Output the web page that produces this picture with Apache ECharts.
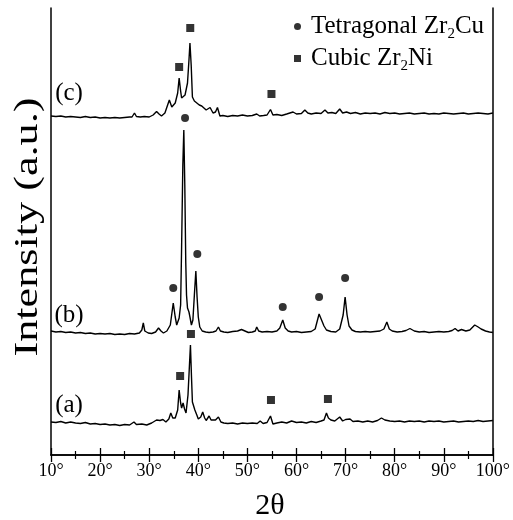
<!DOCTYPE html>
<html>
<head>
<meta charset="utf-8">
<script src="https://cdn.jsdelivr.net/npm/echarts@6/dist/echarts.min.js"></script>
<style>html,body{margin:0;padding:0;background:#fff}#c{width:513px;height:520px}</style>
</head>
<body>
<div id="c"></div>
<script>
// X axis: 2θ in degrees; Y: intensity (a.u.), traces offset vertically
var xTicks = [10, 20, 30, 40, 50, 60, 70, 80, 90, 100];

var traceA = [[10,33],[11,32.5],[12,33.5],[13,32],[14,33],[15,32],[16,31.5],[17,32.5],[18,31],[19,31.5],[20,30.5],[21,31],[22,30],[23,30.5],[24,29.5],[25,30.5],[26,30],[26.9,33],[27.4,30.5],[28.5,31],[29.5,30],[30.5,32],[31.5,35],[32.2,34.5],[32.8,35.5],[33.4,33],[34.0,36],[34.4,42],[34.8,37],[35.3,37],[35.8,45],[36.1,65],[36.4,52],[36.6,47],[36.9,52],[37.2,46],[37.5,42],[37.9,60],[38.15,85],[38.4,110],[38.6,80],[38.8,53],[39.3,45],[39.7,40],[40.0,36],[40.5,38],[40.9,43],[41.3,37],[41.6,34.5],[42.2,39],[42.6,35],[42.9,34],[43.5,35],[44.1,38],[44.6,33],[45.2,32],[46,31.5],[47,32],[48,31],[49,32],[50,31.5],[51,32],[52,31.5],[52.6,34],[53.2,31.5],[54.0,32.5],[54.7,39],[55.2,31],[56,32],[57,33],[58,32],[59,34],[60,32.5],[61,33],[62,32],[63,33.5],[64,32.5],[65,34],[65.6,35],[66.1,42],[66.5,37],[67,35],[67.8,34],[68.8,38],[69.4,34],[70,35.5],[70.9,36],[71.5,33.5],[72.5,34],[73.5,33],[74.5,34],[75.5,33],[76.5,34.5],[77.3,37],[78,35],[79,34],[80,33.5],[81,34],[82,33],[83,34],[84,33.5],[85,34],[86,33],[87,34],[88,33.5],[89,34],[90,33],[91,33.5],[92,34],[93,33],[94,33.5],[95,34],[96,33.5],[97,34.5],[98,33.5],[99,34],[100,34.5]];

var traceB = [[10,124],[11,123],[12,123.5],[13,122.5],[14,123],[15,122],[16,122.5],[17,121.5],[18,122],[19,121],[20,121.5],[21,121],[22,121.5],[23,120.5],[24,121],[25,120.5],[26,121.5],[27,121],[28,122],[28.5,125],[28.8,132],[29.1,124],[29.8,122],[30.5,121.5],[31.3,123],[31.9,127],[32.4,124],[32.9,122],[33.6,124],[34.3,130],[34.9,152],[35.3,138],[35.6,130],[36.1,137],[36.4,150],[36.6,208],[36.85,290],[37.05,325],[37.25,270],[37.45,192],[37.6,160],[37.8,147],[38.1,143],[38.3,138],[38.6,130],[38.9,135],[39.2,160],[39.5,184],[39.75,158],[40.0,138],[40.3,128],[40.8,124],[41.5,123],[42.2,122.5],[43.0,123],[43.6,124],[44.1,128],[44.5,124],[45.2,123],[46,122.5],[47,123.5],[48,124],[48.8,125.5],[49.5,124],[50.2,122.5],[51.0,123],[51.6,124],[51.9,128],[52.3,124],[53,123],[54,123.5],[55,123],[56,124],[56.6,127],[57.2,135],[57.7,127],[58.3,124],[59,123],[60,123.5],[61,122.5],[62,123],[63,123.5],[63.8,126],[64.6,141],[65.1,135],[65.6,129],[66.1,125],[67,123.5],[68,123],[68.8,126],[69.5,140],[69.9,158],[70.3,140],[70.7,129],[71.3,125],[72,123.5],[73,123],[74,123.5],[75,123],[76,123.5],[77,124],[77.8,126],[78.4,133],[78.9,126],[79.5,124],[80.5,123],[81.5,123.5],[82.3,124.5],[83.1,126.5],[84,124],[85,123],[86,123.5],[87,122.5],[88,123],[89,123.5],[90,123],[91,123.5],[91.7,124.5],[92.3,126.5],[92.9,124],[93.6,125.5],[94.5,124],[95.3,125],[96.3,130],[97.0,128],[97.6,126],[98.5,124],[99.3,123],[100,122.5]];

var traceC = [[10,339],[11,338.5],[12,339],[13,338],[14,338.5],[15,338],[16,337.5],[17,338.5],[18,337.5],[19,338],[20,337],[21,337.5],[22,337],[23,337.5],[24,337],[25,337.5],[26,338],[26.5,338],[27.0,342],[27.4,338.5],[28.2,338],[29,338.5],[30,338],[30.8,340],[31.5,343.5],[32.0,341],[32.5,339],[33.2,342],[33.6,344],[34.1,355],[34.6,348],[35.0,350],[35.3,352],[35.8,362],[36.1,377],[36.4,364],[36.6,357],[37.0,358],[37.3,360],[37.8,372],[38.1,395],[38.3,412],[38.55,390],[38.8,358],[39.2,354],[39.7,352],[40.2,350],[40.7,349],[41.1,348],[41.6,345],[42.0,346],[42.4,347.5],[43.0,342],[43.5,343],[43.9,347.5],[44.4,339],[45,339.5],[46,338.5],[47,339.5],[48,339],[49,340],[50,339],[51,339.5],[51.9,341],[52.5,339],[53.3,339.5],[54.0,340],[54.7,345.5],[55.2,340],[56,340.5],[57,339.5],[58,341],[59.3,343],[60,341],[61,341.5],[61.7,345],[62.3,342],[63,341],[64,342],[65,341.5],[65.8,345],[66.4,342],[67.2,342.5],[68,341.5],[68.8,346],[69.4,342],[70.2,343],[71,341.5],[72,342.5],[73,341],[74,342],[75,341.5],[76,342],[77,341],[78,342.5],[79,341.5],[80,342],[81,341],[82,341.5],[83,342],[84,341],[85,341.5],[86,342],[87,341],[88,341.5],[89,341],[90,342],[91,341.5],[92,341],[93,341.5],[94,342],[95,341],[96,341.5],[97,342],[98,341.5],[99,341],[100,342]];

// Phase markers [2θ, height]
var cubicZr2Ni = [[36.1,388],[38.36,427],[54.9,361],[36.3,79],[38.5,121],[54.8,55],[66.4,56]];
var tetragonalZr2Cu = [[37.3,337],[34.9,167],[39.8,201],[57.2,148],[64.6,158],[69.9,177]];

var traceLabels = ['(a)', '(b)', '(c)'];
var legendNames = ['Tetragonal Zr2Cu', 'Cubic Zr2Ni'];

var FONT = '"Liberation Serif", "Times New Roman", serif';
var chart = echarts.init(document.getElementById('c'), null, {renderer: 'canvas'});

function lineSeries(data) {
  return {type: 'line', data: data, symbol: 'none', silent: true,
    lineStyle: {color: '#000', width: 1.4}, z: 3, animation: false};
}

var option = {
  backgroundColor: '#fff',
  animation: false,
  grid: {left: 51, right: 20, top: 8, bottom: 65},
  xAxis: [{
    type: 'value', min: 10, max: 100, interval: 10, position: 'bottom',
    axisLine: {lineStyle: {color: '#000', width: 1.5}},
    axisTick: {inside: true, length: 7, lineStyle: {color: '#000', width: 1.3}},
    minorTick: {show: true, splitNumber: 2, length: 4, lineStyle: {color: '#000', width: 1.2}},
    splitLine: {show: false},
    axisLabel: {formatter: function (v) { return xTicks.indexOf(v) >= 0 ? v + '°' : ''; },
      color: '#000', fontFamily: FONT, fontSize: 18, margin: 7}
  }, {
    type: 'value', min: 10, max: 100, interval: 10, position: 'top',
    axisLine: {lineStyle: {color: '#000', width: 1.5}},
    axisTick: {inside: true, length: 7, lineStyle: {color: '#000', width: 1.3}},
    minorTick: {show: true, splitNumber: 2, length: 4, lineStyle: {color: '#000', width: 1.2}},
    splitLine: {show: false}, axisLabel: {show: false}
  }],
  yAxis: [{
    type: 'value', min: 0, max: 447, position: 'left',
    axisLine: {show: true, lineStyle: {color: '#000', width: 1.5}},
    axisTick: {show: false}, axisLabel: {show: false}, splitLine: {show: false}
  }, {
    type: 'value', min: 0, max: 447, position: 'right',
    axisLine: {show: true, lineStyle: {color: '#000', width: 1.5}},
    axisTick: {show: false}, axisLabel: {show: false}, splitLine: {show: false}
  }],
  legend: {
    data: [{name: legendNames[0], icon: 'circle'}, {name: legendNames[1], icon: 'rect'}],
    orient: 'vertical', left: 289, top: 9, itemGap: 4, itemWidth: 7, itemHeight: 7,
    selectedMode: false,
    formatter: function (name) {
      return name === legendNames[0] ? '{g| }{n|Tetragonal Zr}{s|2}{n|Cu}' : '{g| }{n|Cubic Zr}{s|2}{n|Ni}';
    },
    textStyle: {
      color: '#000', fontFamily: FONT, fontSize: 25,
      rich: {
        g: {width: 5, fontSize: 10},
        n: {fontFamily: FONT, fontSize: 25, color: '#000', lineHeight: 30},
        s: {fontFamily: FONT, fontSize: 15, color: '#000', padding: [16, 0, 0, 0]}
      }
    }
  },
  graphic: [
    {type: 'text', x: 28, y: 227, rotation: Math.PI / 2, scaleX: 1.3, z: 10,
      style: {text: 'Intensity (a.u.)', font: '34px ' + FONT, fill: '#000', align: 'center', verticalAlign: 'middle'}},
    {type: 'text', x: 270, y: 506, style: {text: '2θ', font: '30px ' + FONT, fill: '#000', align: 'center', verticalAlign: 'middle'}},
    {type: 'text', x: 69, y: 405, style: {text: traceLabels[0], font: '25px ' + FONT, fill: '#000', align: 'center', verticalAlign: 'middle'}},
    {type: 'text', x: 69, y: 315, style: {text: traceLabels[1], font: '25px ' + FONT, fill: '#000', align: 'center', verticalAlign: 'middle'}},
    {type: 'text', x: 69, y: 93, style: {text: traceLabels[2], font: '25px ' + FONT, fill: '#000', align: 'center', verticalAlign: 'middle'}}
  ],
  series: [
    lineSeries(traceA), lineSeries(traceB), lineSeries(traceC),
    {name: legendNames[0], type: 'scatter', data: tetragonalZr2Cu, symbol: 'circle', symbolSize: 8,
      itemStyle: {color: '#000'}, z: 4},
    {name: legendNames[1], type: 'scatter', data: cubicZr2Ni, symbol: 'rect', symbolSize: 8,
      itemStyle: {color: '#000'}, z: 4}
  ]
};
chart.setOption(option);
</script>
</body>
</html>
